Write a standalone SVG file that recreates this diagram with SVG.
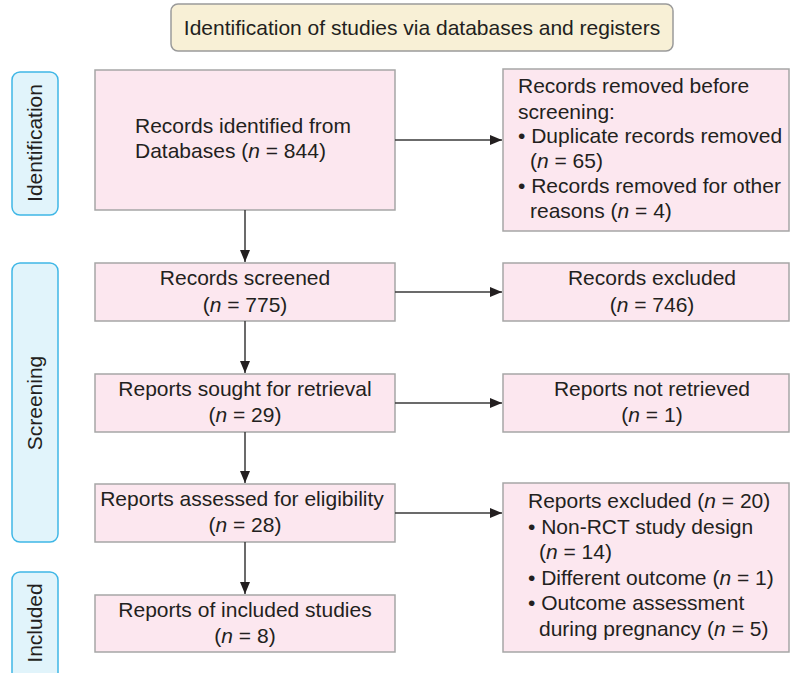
<svg xmlns="http://www.w3.org/2000/svg" width="790" height="673" viewBox="0 0 790 673">
<defs>
<marker id="ah" viewBox="0 0 12 10" refX="12" refY="5" markerWidth="12" markerHeight="10" markerUnits="userSpaceOnUse" orient="auto">
<path d="M0,0 L12,5 L0,10 Z" fill="#231f20"/>
</marker>
</defs>
<style>
text{font-family:"Liberation Sans",Arial,sans-serif;font-size:21px;fill:#231f20}
.box{fill:#fce7ef;stroke:#a6a6a6;stroke-width:1.5}
.lab{fill:#e1f4fb;stroke:#3fb7e6;stroke-width:1.5}
.ban{fill:#f8f0d6;stroke:#9a9a9a;stroke-width:1.5}
.c{text-anchor:middle}
.conn line{stroke:#3a3a3a;stroke-width:1.5;marker-end:url(#ah)}
</style>
<rect width="790" height="673" fill="#ffffff"/>
<g id="banner">
<rect class="ban" x="171" y="4" width="502" height="47" rx="7"/>
<text class="c" x="422" y="35">Identification of studies via databases and registers</text>
</g>
<g id="lab-identification">
<rect class="lab" x="12" y="72" width="46" height="143" rx="8"/>
<text class="c" transform="translate(42,143) rotate(-90)">Identification</text>
</g>
<g id="lab-screening">
<rect class="lab" x="12" y="263" width="46" height="279" rx="8"/>
<text class="c" transform="translate(42,403) rotate(-90)">Screening</text>
</g>
<g id="lab-included">
<rect class="lab" x="12" y="572" width="46" height="120" rx="8"/>
<text class="c" transform="translate(42,623) rotate(-90)">Included</text>
</g>
<g id="n-identified">
<rect class="box" x="95" y="70" width="300" height="140"/>
<text x="135" y="133">Records identified from</text>
<text x="135" y="158">Databases (<tspan font-style="italic">n</tspan> = 844)</text>
</g>
<g id="n-removed">
<rect class="box" x="503" y="69" width="286" height="162"/>
<text x="518" y="93">Records removed before</text>
<text x="518" y="119">screening:</text>
<text x="518" y="143">• Duplicate records removed</text>
<text x="530" y="168">(<tspan font-style="italic">n</tspan> = 65)</text>
<text x="518" y="193">• Records removed for other</text>
<text x="530" y="218">reasons (<tspan font-style="italic">n</tspan> = 4)</text>
</g>
<g id="n-screened">
<rect class="box" x="95" y="263" width="300" height="58"/>
<text class="c" x="245" y="285">Records screened</text>
<text class="c" x="245" y="312">(<tspan font-style="italic">n</tspan> = 775)</text>
</g>
<g id="n-excluded">
<rect class="box" x="503" y="263" width="286" height="58"/>
<text class="c" x="652" y="285">Records excluded</text>
<text class="c" x="652" y="312">(<tspan font-style="italic">n</tspan> = 746)</text>
</g>
<g id="n-sought">
<rect class="box" x="95" y="374" width="300" height="58"/>
<text class="c" x="245" y="396">Reports sought for retrieval</text>
<text class="c" x="245" y="422">(<tspan font-style="italic">n</tspan> = 29)</text>
</g>
<g id="n-notretrieved">
<rect class="box" x="503" y="374" width="286" height="58"/>
<text class="c" x="652" y="396">Reports not retrieved</text>
<text class="c" x="652" y="422">(<tspan font-style="italic">n</tspan> = 1)</text>
</g>
<g id="n-assessed">
<rect class="box" x="95" y="484" width="300" height="58"/>
<text class="c" x="242" y="506">Reports assessed for eligibility</text>
<text class="c" x="245" y="532">(<tspan font-style="italic">n</tspan> = 28)</text>
</g>
<g id="n-repexcluded">
<rect class="box" x="503" y="483" width="286" height="169"/>
<text x="528" y="508">Reports excluded (<tspan font-style="italic">n</tspan> = 20)</text>
<text x="528" y="534">• Non-RCT study design</text>
<text x="539" y="559">(<tspan font-style="italic">n</tspan> = 14)</text>
<text x="528" y="585">• Different outcome (<tspan font-style="italic">n</tspan> = 1)</text>
<text x="528" y="610">• Outcome assessment</text>
<text x="539" y="636">during pregnancy (<tspan font-style="italic">n</tspan> = 5)</text>
</g>
<g id="n-included">
<rect class="box" x="95" y="595" width="300" height="57"/>
<text class="c" x="245" y="617">Reports of included studies</text>
<text class="c" x="245" y="643">(<tspan font-style="italic">n</tspan> = 8)</text>
</g>
<g class="conn" id="connectors">
<line x1="245" y1="210" x2="245" y2="262"/>
<line x1="245" y1="321" x2="245" y2="373"/>
<line x1="245" y1="432" x2="245" y2="483"/>
<line x1="245" y1="542" x2="245" y2="594"/>
<line x1="395" y1="140" x2="502" y2="140"/>
<line x1="395" y1="292" x2="502" y2="292"/>
<line x1="395" y1="403" x2="502" y2="403"/>
<line x1="395" y1="513" x2="502" y2="513"/>
</g>
</svg>
